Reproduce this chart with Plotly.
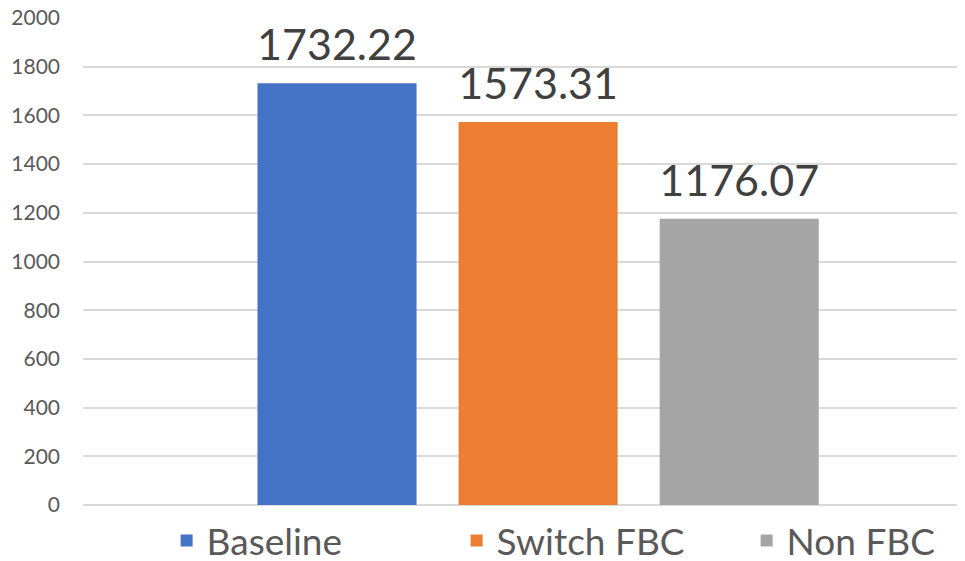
import plotly.graph_objects as go

series = ["Baseline", "Switch FBC", "Non FBC"]
values = [1732.22, 1573.31, 1176.07]
colors = ["#4472C4", "#ED7D31", "#A5A5A5"]
category = [""]
y_ticks = [0, 200, 400, 600, 800, 1000, 1200, 1400, 1600, 1800, 2000]

FONT = "Lato"

fig = go.Figure()
for name, val, col in zip(series, values, colors):
    fig.add_trace(go.Bar(
        x=category, y=[val], name=name, offsetgroup=name,
        marker=dict(color=col, line=dict(width=0)),
        hoverinfo="skip",
    ))
for name, val, col in zip(series, values, colors):
    fig.add_trace(go.Scatter(
        x=category, y=[val], name=name, offsetgroup=name, showlegend=False,
        mode="markers+text", marker=dict(size=18, opacity=0, color=col),
        text=[f"{val:.2f}"], textposition="top center",
        textfont=dict(size=43, color="#404040", family=FONT),
        cliponaxis=False, hoverinfo="skip",
    ))

fig.update_layout(
    width=957, height=553,
    margin=dict(l=75, r=0, t=9.5, b=56, autoexpand=False),
    paper_bgcolor="white", plot_bgcolor="white",
    barmode="group", bargap=0.316, bargroupgap=0.209,
    scattermode="group", scattergap=0.316,
    font=dict(family=FONT, color="#595959"),
    showlegend=True,
    legend=dict(orientation="h", x=0.588, xanchor="center", y=-0.074, yanchor="middle",
                font=dict(size=37, color="#595959", family=FONT),
                entrywidth=245, entrywidthmode="pixels",
                itemsizing="constant", traceorder="normal"),
    xaxis=dict(range=[-0.516, 0.484], showticklabels=False, showgrid=False,
               zeroline=False, showline=False, ticks=""),
    yaxis=dict(range=[0, 2000], tickvals=y_ticks, showgrid=True, gridcolor="#D9D9D9",
               gridwidth=1.5, zeroline=True, zerolinecolor="#D9D9D9", zerolinewidth=1.5,
               showline=False, ticks="", ticklabelstandoff=22, ticklabeloverflow="allow",
               tickfont=dict(size=21, color="#595959", family=FONT)),
)

fig.write_html("out.html")
